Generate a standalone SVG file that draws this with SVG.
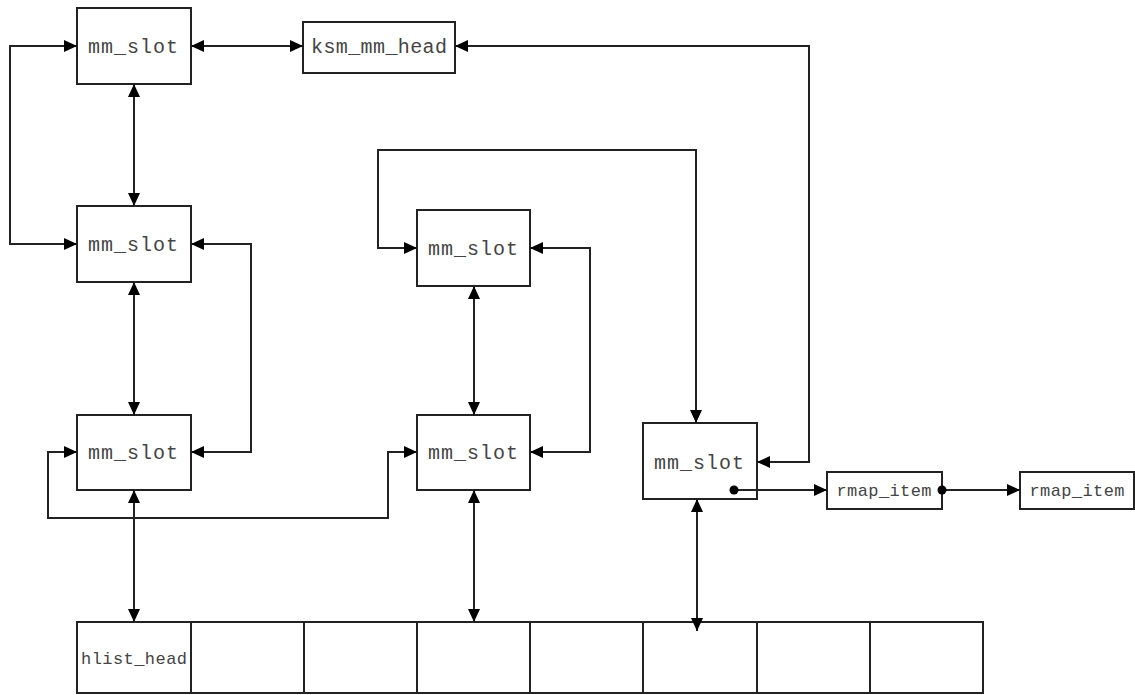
<svg xmlns="http://www.w3.org/2000/svg" width="1135" height="695" viewBox="0 0 1135 695">
<style>
.box{fill:#fff;stroke:#222;stroke-width:2}
.lbl{font-family:"Liberation Mono","DejaVu Sans Mono",monospace;font-size:20px;fill:#444;text-anchor:middle}
.sm{font-size:17px}
.c{fill:none;stroke:#222;stroke-width:2}
.a2{marker-start:url(#ah);marker-end:url(#ah)}
.a1{marker-end:url(#ah)}
</style>
<defs>
<marker id="ah" markerUnits="userSpaceOnUse" markerWidth="14" markerHeight="12" refX="13" refY="6" orient="auto-start-reverse" viewBox="0 0 14 12">
<path d="M0,0 L13,6 L0,12 z" fill="#000"/>
</marker>
</defs>
<rect width="1135" height="695" fill="#fff"/>
<g id="mm_slot_1"><rect class="box" x="77" y="8" width="114" height="76"/><text class="lbl" x="133" y="53" textLength="90">mm_slot</text></g>
<g id="ksm_mm_head"><rect class="box" x="303" y="22" width="152" height="51"/><text class="lbl" x="379" y="53" textLength="136">ksm_mm_head</text></g>
<g id="mm_slot_2"><rect class="box" x="77" y="206" width="114" height="76"/><text class="lbl" x="133" y="251" textLength="90">mm_slot</text></g>
<g id="mm_slot_3"><rect class="box" x="77" y="415" width="114" height="75"/><text class="lbl" x="133" y="459" textLength="90">mm_slot</text></g>
<g id="mm_slot_4"><rect class="box" x="417" y="210" width="113" height="76"/><text class="lbl" x="473" y="255" textLength="90">mm_slot</text></g>
<g id="mm_slot_5"><rect class="box" x="417" y="415" width="113" height="75"/><text class="lbl" x="473" y="459" textLength="90">mm_slot</text></g>
<g id="mm_slot_6"><rect class="box" x="643" y="423" width="114" height="76"/><text class="lbl" x="699" y="469" textLength="90">mm_slot</text></g>
<g id="rmap_item_1"><rect class="box" x="827" y="472" width="115" height="37"/><text class="lbl sm" x="884" y="496" textLength="95">rmap_item</text></g>
<g id="rmap_item_2"><rect class="box" x="1020" y="472" width="114" height="37"/><text class="lbl sm" x="1077" y="496" textLength="95">rmap_item</text></g>
<g id="hlist_row">
<rect class="box" x="77" y="622" width="906" height="71"/>
<path class="c" d="M191,622 V693 M304,622 V693 M417,622 V693 M530,622 V693 M643,622 V693 M757,622 V693 M870,622 V693"/>
<text class="lbl sm" x="134" y="664" textLength="106">hlist_head</text>
</g>
<g id="connectors">
<path class="c a2" d="M191,46 H303"/>
<path class="c a2" d="M77,46 H10 V244 H77"/>
<path class="c a2" d="M455,46 H809 V462 H757"/>
<path class="c a2" d="M134,84 V206"/>
<path class="c a2" d="M134,282 V415"/>
<path class="c a2" d="M191,244 H251 V452 H191"/>
<path class="c a2" d="M134,490 V622"/>
<path class="c a2" d="M77,452 H48 V518 H388 V452 H417"/>
<path class="c a2" d="M417,248 H378 V150 H696 V423"/>
<path class="c a2" d="M474,286 V415"/>
<path class="c a2" d="M530,248 H590 V452 H530"/>
<path class="c a2" d="M474,490 V622"/>
<path class="c a2" d="M697,499 V631"/>
<path class="c a1" d="M734,490 H827"/>
<path class="c a1" d="M942,490 H1020"/>
<circle cx="734" cy="490" r="4.5" fill="#000"/>
<circle cx="942" cy="490" r="4.5" fill="#000"/>
</g>
</svg>
